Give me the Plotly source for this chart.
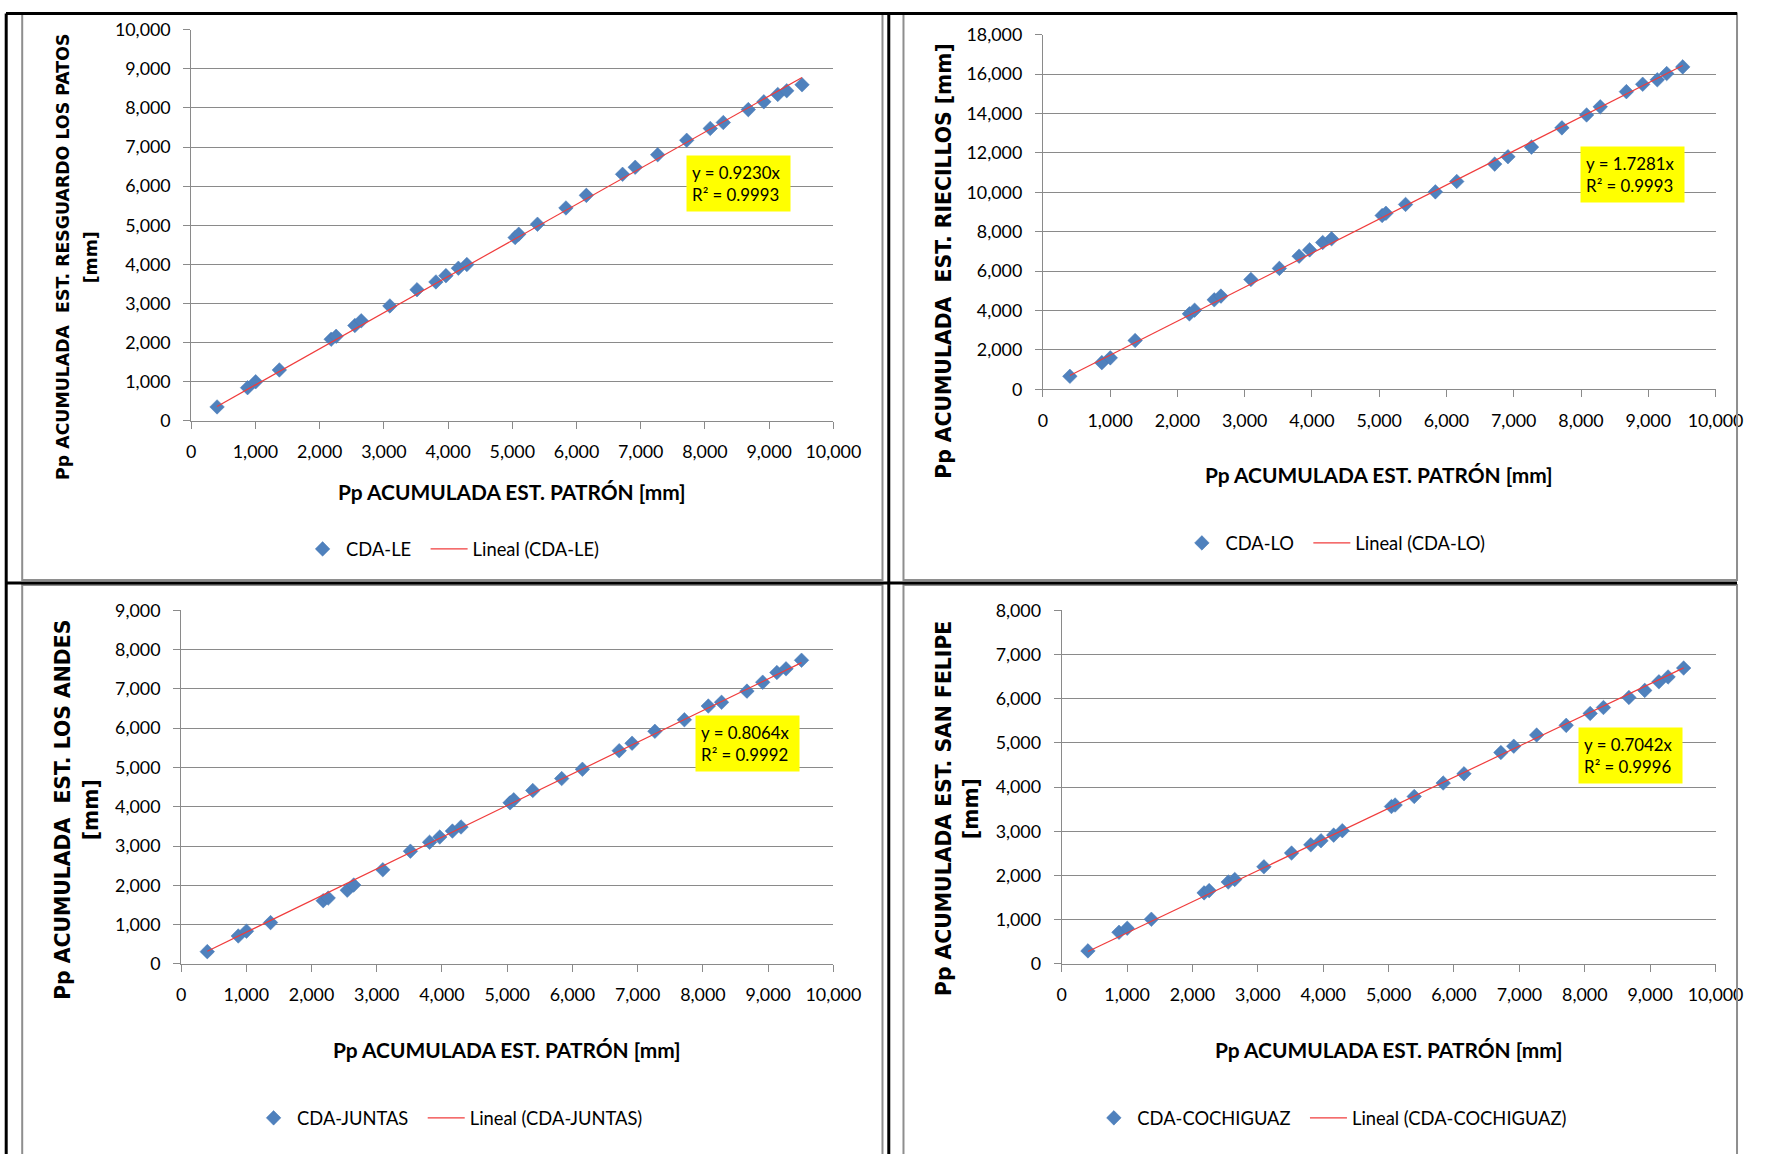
import plotly.graph_objects as go

# Pp acumulada estación patrón [mm] (eje x, común a los cuatro gráficos)
patron = [402, 877, 1003, 1372, 2179, 2256, 2548, 2647, 3093, 3516,
          3810, 3966, 4160, 4292, 5044, 5100, 5392, 5835, 6153, 6717,
          6914, 7264, 7716, 8083, 8286, 8675, 8917, 9134, 9274, 9512]

# Pp acumulada de cada estación [mm]
cda_le = [359, 851, 1002, 1304, 2089, 2164, 2439, 2561, 2940, 3355,
          3554, 3714, 3904, 3998, 4688, 4773, 5028, 5444, 5766, 6304,
          6484, 6805, 7174, 7476, 7628, 7958, 8157, 8346, 8440, 8592]
cda_lo = [657, 1351, 1595, 2477, 3829, 4016, 4542, 4730, 5574, 6137,
          6757, 7076, 7451, 7639, 8821, 8934, 9384, 10022, 10548, 11430,
          11805, 12293, 13270, 13926, 14339, 15109, 15484, 15709, 16028, 16366]
cda_juntas = [313, 711, 834, 1052, 1610, 1677, 1876, 2008, 2397, 2870,
              3098, 3230, 3382, 3486, 4102, 4178, 4415, 4718, 4955, 5428,
              5618, 5921, 6215, 6565, 6660, 6944, 7171, 7418, 7512, 7730]
cda_cochiguaz = [295, 716, 808, 1011, 1608, 1659, 1853, 1912, 2198, 2509,
                 2695, 2787, 2914, 3015, 3562, 3596, 3789, 4093, 4303, 4783,
                 4926, 5179, 5398, 5667, 5802, 6029, 6189, 6383, 6493, 6695]

series_names = ["CDA-LE", "CDA-LO", "CDA-JUNTAS", "CDA-COCHIGUAZ"]
series_values = [cda_le, cda_lo, cda_juntas, cda_cochiguaz]
slopes = [0.9230, 1.7281, 0.8064, 0.7042]
r2 = ["0.9993", "0.9993", "0.9992", "0.9996"]
y_max = [10000, 18000, 9000, 8000]
y_step = [1000, 2000, 1000, 1000]
y_titles = [["Pp ACUMULADA \u00a0EST. RESGUARDO LOS PATOS", "[mm]"],
            ["Pp ACUMULADA \u00a0EST. RIECILLOS [mm]"],
            ["Pp ACUMULADA \u00a0EST. LOS ANDES", "[mm]"],
            ["Pp ACUMULADA EST. SAN FELIPE", "[mm]"]]
x_title = "Pp ACUMULADA EST. PATRÓN [mm]"

W, H = 1766, 1154
# the photographed page comes out slightly shrunk and shifted; positions below are
# given in picture pixels and mapped back onto the figure
K, AX, AY = 0.981, 4.5, 10.0
def fx(s):
    return (s - AX) / K
def fy(s):
    return (s - AY) / K
def px(s):
    return fx(s) / W
def py(s):
    return 1 - fy(s) / H
def fs(size):
    return round(size / K, 2)

# plot areas in picture pixels: (x0, x1, y_top, y_bottom)
areas = [(190.7, 832.6, 27.7, 419.0),
         (1042.0, 1714.5, 32.7, 387.3),
         (180.5, 832.6, 608.4, 962.0),
         (1060.8, 1714.5, 608.4, 962.0)]
ytitle_pos = [([62.4, 90.8], 255), ([943.0], 259), ([62.4, 90.8], 808), ([943.3, 970.4], 807)]
ytitle_size = [17, 20, 20, 20]
xtitle_y = [489.5, 472.5, 1047.5, 1047.5]
legend_pos = [(298.5, 547), (1177.5, 541), (249.5, 1116), (1089.5, 1116)]
eq_pos = [(0.853, 0.606), (0.877, 0.607), (0.869, 0.624), (0.870, 0.589)]

BLUE = "#4F81BD"
RED = "#F03C3C"
GRID = "#8A8A8A"
FONT = "Lato, Calibri, sans-serif"

fig = go.Figure()
annotations = []
shapes = []

for i in range(4):
    n = "" if i == 0 else str(i + 1)
    leg = "legend" if i == 0 else "legend" + str(i + 1)
    xa, ya = "x" + n, "y" + n
    fig.add_trace(go.Scatter(
        x=patron, y=series_values[i], mode="markers", name=series_names[i] + "\u00a0\u00a0",
        marker=dict(symbol="diamond", size=fs(11), color=BLUE, line=dict(width=0.5, color="#4678B4")),
        xaxis=xa, yaxis=ya, legend=leg))
    x0, x1 = min(patron), max(patron)
    fig.add_trace(go.Scatter(
        x=[x0, x1], y=[slopes[i] * x0, slopes[i] * x1], mode="lines",
        name="Lineal (" + series_names[i] + ")",
        line=dict(color=RED, width=1.2), xaxis=xa, yaxis=ya, legend=leg))

    ax0, ax1, top, bot = areas[i]
    common = dict(showline=True, linecolor=GRID, linewidth=1, ticks="outside", ticklen=7,
                  tickcolor=GRID, tickfont=dict(family=FONT, size=fs(17.5), color="#000"),
                  tickformat=",d", zeroline=False)
    fig.layout["xaxis" + n] = dict(domain=[px(ax0), px(ax1)], range=[0, 10000], dtick=1000,
                                   anchor=ya, showgrid=False, ticklabelstandoff=8, **common)
    fig.layout["yaxis" + n] = dict(domain=[py(bot), py(top)], range=[0, y_max[i]], dtick=y_step[i],
                                   anchor=xa, showgrid=True, gridcolor=GRID, gridwidth=1,
                                   ticklabelstandoff=9, **common)

    fig.layout[leg] = dict(orientation="h", x=px(legend_pos[i][0]), y=py(legend_pos[i][1]),
                           xanchor="left", yanchor="middle", xref="paper", yref="paper",
                           itemwidth=37, font=dict(family=FONT, size=fs(18), color="#000"),
                           bgcolor="rgba(0,0,0,0)")

    # axis titles
    xs, yc = ytitle_pos[i]
    for line, xpos in zip(y_titles[i], xs):
        annotations.append(dict(text="<b>" + line + "</b>", x=px(xpos), y=py(yc), xref="paper", yref="paper",
                                textangle=-90, showarrow=False, xanchor="center", yanchor="middle",
                                font=dict(family="DejaVu Sans", size=fs(ytitle_size[i]), color="#000")))
    annotations.append(dict(text="<b>" + x_title + "</b>", x=px((ax0 + ax1) / 2), y=py(xtitle_y[i]),
                            xref="paper", yref="paper", showarrow=False, xanchor="center", yanchor="middle",
                            font=dict(family=FONT, size=fs(20.5), color="#000")))
    # trendline equation in a yellow box
    annotations.append(dict(text="y = %.4fx<br>R² = %s" % (slopes[i], r2[i]),
                            x=eq_pos[i][0], y=eq_pos[i][1], xref=xa + " domain", yref=ya + " domain",
                            showarrow=False, xanchor="center", yanchor="middle", align="left",
                            valign="middle", width=fs(91), height=fs(44),
                            bgcolor="#FFFF00", borderpad=fs(5),
                            font=dict(family=FONT, size=fs(16.5), color="#000")))

# chart-area borders (gray) and table borders (black)
def clampx(s):
    return min(max(fx(s), 1.0), W - 1.0) / W
def clampy(s):
    return 1 - min(max(fy(s), 1.5), H - 1.0) / H

for (cx0, cy0, cx1, cy1) in [(21.7, 8, 881.7, 578), (902.7, 8, 1763.3, 578),
                             (21.7, 583, 881.7, 1170), (902.7, 583, 1763.3, 1170)]:
    shapes.append(dict(type="rect", xref="paper", yref="paper", x0=clampx(cx0), x1=clampx(cx1),
                       y0=py(cy1), y1=clampy(cy0), line=dict(color="#8E8E8E", width=2)))
for (lx0, ly0, lx1, ly1) in [(0, 5.5, 1766, 5.5), (5.7, 5.5, 5.7, 1170),
                             (888, 5.5, 888, 1170), (0, 581, 1766, 581)]:
    shapes.append(dict(type="line", xref="paper", yref="paper", x0=clampx(lx0), x1=clampx(lx1),
                       y0=clampy(ly0), y1=clampy(ly1) if ly1 < 1154 else py(ly1),
                       line=dict(color="#000", width=3)))

fig.update_layout(autosize=True, margin=dict(l=0, r=0, t=0, b=0),
                  paper_bgcolor="white", plot_bgcolor="white",
                  annotations=annotations, shapes=shapes)

# the figure fills the whole window, no page margin, no scrollbars
fill_page = """
var gd = document.getElementById('{plot_id}');
var full = 'margin:0;padding:0;width:100%;height:100%;overflow:hidden;';
document.documentElement.style.cssText = full;
document.body.style.cssText = full;
gd.parentElement.style.cssText = 'width:100%;height:100%;';
gd.style.width = '100%';
gd.style.height = '100%';
Plotly.Plots.resize(gd);
"""
fig.write_html("out.html", default_width="100%", default_height="100%",
               config={"displayModeBar": False}, post_script=fill_page)
